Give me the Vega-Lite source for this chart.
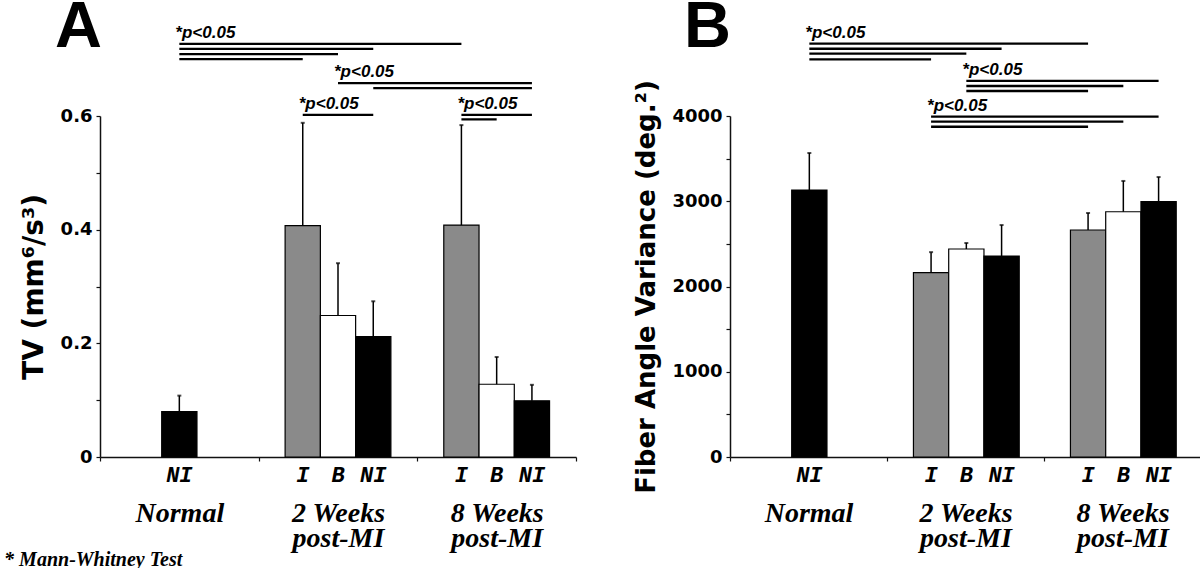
{
  "$schema": "https://vega.github.io/schema/vega-lite/v6.json",
  "background": "white",
  "padding": {"left": 4, "top": -6, "right": 0, "bottom": 0},
  "title": {"text": "*  Mann-Whitney Test", "orient": "bottom", "anchor": "start", "frame": "bounds", "dx": -16, "offset": 14, "baseline": "alphabetic", "font": "Liberation Serif", "fontStyle": "italic", "fontWeight": "bold", "fontSize": 20, "color": "black"},
  "datasets": {
    "barsA": [
      {"group": "Normal", "slot": "2", "cond": "NI", "value": 0.080, "upper": 0.108},
      {"group": "2 Weeks post-MI", "slot": "1", "cond": "I", "value": 0.407, "upper": 0.588},
      {"group": "2 Weeks post-MI", "slot": "2", "cond": "B", "value": 0.249, "upper": 0.341},
      {"group": "2 Weeks post-MI", "slot": "3", "cond": "NI", "value": 0.212, "upper": 0.274},
      {"group": "8 Weeks post-MI", "slot": "1", "cond": "I", "value": 0.408, "upper": 0.584},
      {"group": "8 Weeks post-MI", "slot": "2", "cond": "B", "value": 0.128, "upper": 0.176},
      {"group": "8 Weeks post-MI", "slot": "3", "cond": "NI", "value": 0.099, "upper": 0.127}
    ],
    "sigA": [
      {"line": "L1", "group": "Normal", "slot": "2", "y": 0.727},
      {"line": "L1", "group": "8 Weeks post-MI", "slot": "1", "y": 0.727},
      {"line": "L2", "group": "Normal", "slot": "2", "y": 0.718},
      {"line": "L2", "group": "2 Weeks post-MI", "slot": "3", "y": 0.718},
      {"line": "L3", "group": "Normal", "slot": "2", "y": 0.709},
      {"line": "L3", "group": "2 Weeks post-MI", "slot": "2", "y": 0.709},
      {"line": "L4", "group": "Normal", "slot": "2", "y": 0.700},
      {"line": "L4", "group": "2 Weeks post-MI", "slot": "1", "y": 0.700},
      {"line": "L5", "group": "2 Weeks post-MI", "slot": "2", "y": 0.658},
      {"line": "L5", "group": "8 Weeks post-MI", "slot": "3", "y": 0.658},
      {"line": "L6", "group": "2 Weeks post-MI", "slot": "3", "y": 0.649},
      {"line": "L6", "group": "8 Weeks post-MI", "slot": "3", "y": 0.649},
      {"line": "L7", "group": "2 Weeks post-MI", "slot": "1", "y": 0.602},
      {"line": "L7", "group": "2 Weeks post-MI", "slot": "3", "y": 0.602},
      {"line": "L8", "group": "8 Weeks post-MI", "slot": "1", "y": 0.602},
      {"line": "L8", "group": "8 Weeks post-MI", "slot": "3", "y": 0.602},
      {"line": "L9", "group": "8 Weeks post-MI", "slot": "1", "y": 0.594},
      {"line": "L9", "group": "8 Weeks post-MI", "slot": "2", "y": 0.594}
    ],
    "pA": [
      {"group": "Normal", "slot": "2", "y": 0.727, "label": "*p<0.05"},
      {"group": "2 Weeks post-MI", "slot": "2", "y": 0.658, "label": "*p<0.05"},
      {"group": "2 Weeks post-MI", "slot": "1", "y": 0.602, "label": "*p<0.05"},
      {"group": "8 Weeks post-MI", "slot": "1", "y": 0.602, "label": "*p<0.05"}
    ],
    "barsB": [
      {"group": "Normal", "slot": "2", "cond": "NI", "value": 3132, "upper": 3566},
      {"group": "2 Weeks post-MI", "slot": "1", "cond": "I", "value": 2162, "upper": 2403},
      {"group": "2 Weeks post-MI", "slot": "2", "cond": "B", "value": 2440, "upper": 2510},
      {"group": "2 Weeks post-MI", "slot": "3", "cond": "NI", "value": 2358, "upper": 2721},
      {"group": "8 Weeks post-MI", "slot": "1", "cond": "I", "value": 2663, "upper": 2862},
      {"group": "8 Weeks post-MI", "slot": "2", "cond": "B", "value": 2877, "upper": 3238},
      {"group": "8 Weeks post-MI", "slot": "3", "cond": "NI", "value": 2995, "upper": 3284}
    ],
    "sigB": [
      {"line": "M1", "group": "Normal", "slot": "2", "y": 4848},
      {"line": "M1", "group": "8 Weeks post-MI", "slot": "1", "y": 4848},
      {"line": "M2", "group": "Normal", "slot": "2", "y": 4789},
      {"line": "M2", "group": "2 Weeks post-MI", "slot": "3", "y": 4789},
      {"line": "M3", "group": "Normal", "slot": "2", "y": 4731},
      {"line": "M3", "group": "2 Weeks post-MI", "slot": "2", "y": 4731},
      {"line": "M4", "group": "Normal", "slot": "2", "y": 4665},
      {"line": "M4", "group": "2 Weeks post-MI", "slot": "1", "y": 4665},
      {"line": "M5", "group": "2 Weeks post-MI", "slot": "2", "y": 4411},
      {"line": "M5", "group": "8 Weeks post-MI", "slot": "3", "y": 4411},
      {"line": "M6", "group": "2 Weeks post-MI", "slot": "2", "y": 4352},
      {"line": "M6", "group": "8 Weeks post-MI", "slot": "2", "y": 4352},
      {"line": "M7", "group": "2 Weeks post-MI", "slot": "2", "y": 4293},
      {"line": "M7", "group": "8 Weeks post-MI", "slot": "1", "y": 4293},
      {"line": "M8", "group": "2 Weeks post-MI", "slot": "1", "y": 3992},
      {"line": "M8", "group": "8 Weeks post-MI", "slot": "3", "y": 3992},
      {"line": "M9", "group": "2 Weeks post-MI", "slot": "1", "y": 3933},
      {"line": "M9", "group": "8 Weeks post-MI", "slot": "2", "y": 3933},
      {"line": "M10", "group": "2 Weeks post-MI", "slot": "1", "y": 3874},
      {"line": "M10", "group": "8 Weeks post-MI", "slot": "1", "y": 3874}
    ],
    "pB": [
      {"group": "Normal", "slot": "2", "y": 4848, "label": "*p<0.05"},
      {"group": "2 Weeks post-MI", "slot": "2", "y": 4411, "label": "*p<0.05"},
      {"group": "2 Weeks post-MI", "slot": "1", "y": 3992, "label": "*p<0.05"}
    ]
  },
  "config": {
    "view": {"stroke": null},
    "axis": {"grid": false, "domainColor": "#111111", "tickColor": "#111111", "labelColor": "black", "titleColor": "black", "domainWidth": 1.5, "tickWidth": 1.2},
    "axisX": {"title": null, "labelAngle": 0, "tickBand": "extent", "tickSize": 4, "labelPadding": 38, "labelFont": "Liberation Serif", "labelFontStyle": "italic", "labelFontWeight": "bold", "labelFontSize": 28, "labelLineHeight": 25, "labelExpr": "indexof('' + datum.label, 'Weeks') > 0 ? [slice(datum.label, 0, 7), 'post-MI'] : (datum.label == 'Normal' ? 'Normal' : '')"},
    "axisY": {"tickSize": 4, "labelPadding": 4, "labelFont": "DejaVu Sans", "labelFontWeight": "bold", "labelFontSize": 18, "labelOverlap": false, "titleFont": "DejaVu Sans", "titleFontWeight": "bold", "titlePadding": 12}
  },
  "spacing": 56,
  "hconcat": [
    {
      "width": 476,
      "height": 341,
      "title": {"text": "A", "anchor": "start", "frame": "group", "dx": -45, "offset": -88, "baseline": "alphabetic", "font": "Liberation Sans", "fontSize": 65, "fontWeight": "bold", "color": "black"},
      "layer": [
        {
          "data": {"name": "barsA"},
          "mark": {"type": "bar", "stroke": "black", "strokeWidth": 1.2},
          "encoding": {
            "x": {"field": "group", "type": "nominal", "sort": null, "scale": {"domain": ["Normal", "2 Weeks post-MI", "8 Weeks post-MI"], "paddingInner": 0, "paddingOuter": 0}},
            "xOffset": {"field": "slot", "type": "nominal", "scale": {"domain": ["1", "2", "3"], "paddingInner": 0, "paddingOuter": 0.75}},
            "y": {"field": "value", "type": "quantitative", "scale": {"domain": [0, 0.6], "nice": false}, "axis": {"values": [0, 0.1, 0.2, 0.3, 0.4, 0.5, 0.6], "format": "~g", "labelExpr": "datum.value == 0 || datum.value == 0.2 || datum.value == 0.4 || datum.value == 0.6 ? datum.label : ''", "title": "TV (mm⁶/s³)", "titleFontSize": 28}},
            "color": {"field": "cond", "type": "nominal", "scale": {"domain": ["I", "B", "NI"], "range": ["#8a8a8a", "#ffffff", "#000000"]}, "legend": null}
          }
        },
        {
          "data": {"name": "barsA"},
          "mark": {"type": "rule", "color": "black", "strokeWidth": 1.5},
          "encoding": {
            "x": {"field": "group", "type": "nominal"},
            "xOffset": {"field": "slot", "type": "nominal"},
            "y": {"field": "value", "type": "quantitative"},
            "y2": {"field": "upper"}
          }
        },
        {
          "data": {"name": "barsA"},
          "mark": {"type": "tick", "orient": "horizontal", "color": "black", "size": 4, "thickness": 2},
          "encoding": {
            "x": {"field": "group", "type": "nominal"},
            "xOffset": {"field": "slot", "type": "nominal"},
            "y": {"field": "upper", "type": "quantitative"}
          }
        },
        {
          "data": {"name": "barsA"},
          "mark": {"type": "text", "baseline": "alphabetic", "dy": 25, "font": "Liberation Mono", "fontStyle": "italic", "fontWeight": "bold", "fontSize": 22, "color": "black"},
          "encoding": {
            "x": {"field": "group", "type": "nominal"},
            "xOffset": {"field": "slot", "type": "nominal"},
            "y": {"datum": 0, "type": "quantitative"},
            "text": {"field": "cond"}
          }
        },
        {
          "data": {"name": "sigA"},
          "mark": {"type": "line", "color": "black", "strokeWidth": 2.3, "strokeCap": "butt"},
          "encoding": {
            "x": {"field": "group", "type": "nominal"},
            "xOffset": {"field": "slot", "type": "nominal"},
            "y": {"field": "y", "type": "quantitative"},
            "detail": {"field": "line"}
          }
        },
        {
          "data": {"name": "pA"},
          "mark": {"type": "text", "align": "left", "baseline": "alphabetic", "dx": -4, "dy": -6, "font": "Liberation Sans", "fontStyle": "italic", "fontWeight": "bold", "fontSize": 17, "color": "black"},
          "encoding": {
            "x": {"field": "group", "type": "nominal"},
            "xOffset": {"field": "slot", "type": "nominal"},
            "y": {"field": "y", "type": "quantitative"},
            "text": {"field": "label"}
          }
        }
      ]
    },
    {
      "width": 471,
      "height": 341,
      "title": {"text": "B", "anchor": "start", "frame": "group", "dx": -46, "offset": -88, "baseline": "alphabetic", "font": "Liberation Sans", "fontSize": 65, "fontWeight": "bold", "color": "black"},
      "layer": [
        {
          "data": {"name": "barsB"},
          "mark": {"type": "bar", "stroke": "black", "strokeWidth": 1.2},
          "encoding": {
            "x": {"field": "group", "type": "nominal", "sort": null, "scale": {"domain": ["Normal", "2 Weeks post-MI", "8 Weeks post-MI"], "paddingInner": 0, "paddingOuter": 0}},
            "xOffset": {"field": "slot", "type": "nominal", "scale": {"domain": ["1", "2", "3"], "paddingInner": 0, "paddingOuter": 0.75}},
            "y": {"field": "value", "type": "quantitative", "scale": {"domain": [0, 4000], "nice": false}, "axis": {"values": [0, 500, 1000, 1500, 2000, 2500, 3000, 3500, 4000], "format": "d", "labelExpr": "datum.value % 1000 == 0 ? datum.label : ''", "title": "Fiber Angle Variance (deg.²)", "titleFontSize": 26}},
            "color": {"field": "cond", "type": "nominal", "scale": {"domain": ["I", "B", "NI"], "range": ["#8a8a8a", "#ffffff", "#000000"]}, "legend": null}
          }
        },
        {
          "data": {"name": "barsB"},
          "mark": {"type": "rule", "color": "black", "strokeWidth": 1.5},
          "encoding": {
            "x": {"field": "group", "type": "nominal"},
            "xOffset": {"field": "slot", "type": "nominal"},
            "y": {"field": "value", "type": "quantitative"},
            "y2": {"field": "upper"}
          }
        },
        {
          "data": {"name": "barsB"},
          "mark": {"type": "tick", "orient": "horizontal", "color": "black", "size": 4, "thickness": 2},
          "encoding": {
            "x": {"field": "group", "type": "nominal"},
            "xOffset": {"field": "slot", "type": "nominal"},
            "y": {"field": "upper", "type": "quantitative"}
          }
        },
        {
          "data": {"name": "barsB"},
          "mark": {"type": "text", "baseline": "alphabetic", "dy": 25, "font": "Liberation Mono", "fontStyle": "italic", "fontWeight": "bold", "fontSize": 22, "color": "black"},
          "encoding": {
            "x": {"field": "group", "type": "nominal"},
            "xOffset": {"field": "slot", "type": "nominal"},
            "y": {"datum": 0, "type": "quantitative"},
            "text": {"field": "cond"}
          }
        },
        {
          "data": {"name": "sigB"},
          "mark": {"type": "line", "color": "black", "strokeWidth": 2.3, "strokeCap": "butt"},
          "encoding": {
            "x": {"field": "group", "type": "nominal"},
            "xOffset": {"field": "slot", "type": "nominal"},
            "y": {"field": "y", "type": "quantitative"},
            "detail": {"field": "line"}
          }
        },
        {
          "data": {"name": "pB"},
          "mark": {"type": "text", "align": "left", "baseline": "alphabetic", "dx": -4, "dy": -6, "font": "Liberation Sans", "fontStyle": "italic", "fontWeight": "bold", "fontSize": 17, "color": "black"},
          "encoding": {
            "x": {"field": "group", "type": "nominal"},
            "xOffset": {"field": "slot", "type": "nominal"},
            "y": {"field": "y", "type": "quantitative"},
            "text": {"field": "label"}
          }
        }
      ]
    }
  ]
}
